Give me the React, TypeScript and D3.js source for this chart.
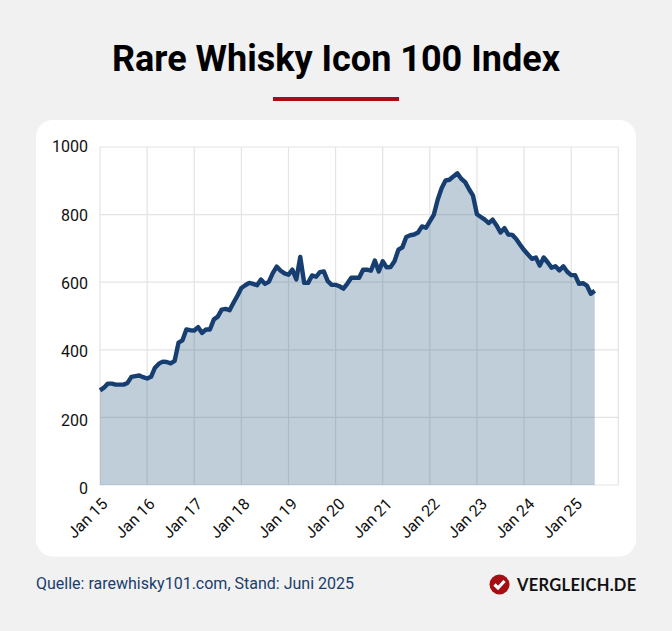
import { useEffect, useRef } from 'react'
import * as d3 from 'd3'

// monatliche Indexwerte, Jan 15 bis Jul 25
const values2015 = [280, 288, 300, 300, 297, 297, 297, 302, 320, 322, 324, 319]
const values2016 = [315, 320, 347, 359, 365, 364, 360, 367, 421, 428, 460, 458]
const values2017 = [457, 467, 450, 460, 460, 490, 498, 519, 521, 517, 539, 560]
const values2018 = [583, 591, 598, 595, 591, 608, 595, 601, 627, 646, 634, 626]
const values2019 = [622, 637, 608, 675, 598, 598, 620, 616, 630, 632, 603, 592]
const values2020 = [592, 588, 581, 596, 613, 613, 613, 637, 637, 634, 664, 632]
const values2021 = [662, 644, 645, 662, 696, 703, 734, 739, 741, 747, 765, 761]
const values2022 = [780, 799, 844, 878, 901, 903, 913, 922, 906, 896, 875, 856]
const values2023 = [801, 793, 785, 775, 785, 768, 747, 760, 741, 740, 728, 711]
const values2024 = [695, 682, 669, 673, 649, 673, 659, 643, 647, 635, 647, 631]
const values2025 = [621, 621, 595, 597, 590, 566, 575]

const yearLabels = ['Jan 15', 'Jan 16', 'Jan 17', 'Jan 18', 'Jan 19', 'Jan 20', 'Jan 21', 'Jan 22', 'Jan 23', 'Jan 24', 'Jan 25']
const yTicks = [0, 200, 400, 600, 800, 1000]

const W = 672
const H = 631
const FONT = 'Roboto, sans-serif'
const NAVY = '#163e70'
const RED = '#a50f14'

export default function App() {
  const svgRef = useRef<SVGSVGElement>(null)

  useEffect(() => {
    const svg = svgRef.current
    if (!svg) return
    const sel = d3.select(svg)
    sel.selectAll('*').remove()

    const data = [
      ...values2015, ...values2016, ...values2017, ...values2018, ...values2019, ...values2020,
      ...values2021, ...values2022, ...values2023, ...values2024, ...values2025,
    ].map((v, i) => ({ i, v }))

    const margin = { top: 147, left: 100 }
    const iw = 518.3
    const ih = 338

    // Hintergrund + Karte
    sel.append('rect').attr('width', W).attr('height', H).attr('fill', '#f1f1f1')
    sel.append('rect')
      .attr('x', 36).attr('y', 120).attr('width', 600).attr('height', 436.5).attr('rx', 17)
      .attr('fill', '#fff')

    // Titel
    sel.append('text')
      .attr('x', W / 2).attr('y', 71).attr('text-anchor', 'middle')
      .attr('font-family', FONT).attr('font-weight', 700).attr('font-size', 36).attr('fill', '#000')
      .text('Rare Whisky Icon 100 Index')
    sel.append('rect').attr('x', 273).attr('y', 97).attr('width', 126).attr('height', 4).attr('fill', RED)

    const g = sel.append('g').attr('transform', `translate(${margin.left},${margin.top})`)

    const x = d3.scaleLinear().domain([0, 132]).range([0, iw])
    const y = d3.scaleLinear().domain([0, 1000]).range([ih, 0])

    // Beschriftung läuft etwas weiter auseinander als das Gitter
    const xLabel = d3.scaleLinear().domain([0, 120]).range([0, 474.5])
    const yLabel = d3.scaleLinear().domain([0, 1000]).range([341.3, -0.3])

    // Gitter
    const xTicks = d3.range(0, 133, 12)
    g.append('g').selectAll('line').data(xTicks).join('line')
      .attr('x1', d => x(d)).attr('x2', d => x(d)).attr('y1', 0).attr('y2', ih)
      .attr('stroke', '#e4e4e4').attr('stroke-width', 1.2)
    g.append('g').selectAll('line').data(yTicks).join('line')
      .attr('x1', 0).attr('x2', iw).attr('y1', d => y(d)).attr('y2', d => y(d))
      .attr('stroke', '#e4e4e4').attr('stroke-width', 1.2)

    // Y-Achse
    g.append('g')
      .call(d3.axisLeft(yLabel).tickValues(yTicks).tickSize(0).tickPadding(12).tickFormat(d => String(d)))
      .call(ag => {
        ag.select('.domain').remove()
        ag.selectAll('text').attr('fill', '#111').attr('font-size', 16).attr('font-family', FONT)
      })

    // X-Achse
    g.append('g')
      .attr('transform', `translate(0,${ih})`)
      .call(d3.axisBottom(xLabel).tickValues(xTicks.slice(0, yearLabels.length)).tickSize(0)
        .tickFormat((_, i) => yearLabels[i]))
      .call(ag => {
        ag.select('.domain').remove()
        ag.selectAll('text')
          .attr('fill', '#111').attr('font-size', 16).attr('font-family', FONT)
          .attr('text-anchor', 'end').attr('dy', 0).attr('y', 0)
          .attr('transform', 'translate(8,20) rotate(-45)')
      })

    // Fläche + Linie
    const area = d3.area<{ i: number; v: number }>().x(d => x(d.i)).y0(ih).y1(d => y(d.v))
    const line = d3.line<{ i: number; v: number }>().x(d => x(d.i)).y(d => y(d.v))
    g.append('path').datum(data).attr('fill', '#174b75').attr('fill-opacity', 0.27).attr('d', area)
    g.append('path').datum(data)
      .attr('fill', 'none').attr('stroke', NAVY).attr('stroke-width', 4.4)
      .attr('stroke-linejoin', 'round').attr('d', line)

    // Quelle
    sel.append('text')
      .attr('x', 36).attr('y', 589)
      .attr('font-family', FONT).attr('font-size', 16).attr('fill', '#1a3d6b')
      .text('Quelle: rarewhisky101.com, Stand: Juni 2025')

    // Logo
    const logo = sel.append('g').attr('transform', 'translate(499.5,584.5)')
    logo.append('circle').attr('r', 10).attr('fill', RED)
    logo.append('path')
      .attr('d', 'M-5,0 L-1.5,3.5 L5,-3.5')
      .attr('fill', 'none').attr('stroke', '#fff').attr('stroke-width', 3.2)
    sel.append('text')
      .attr('x', 517).attr('y', 590.5)
      .attr('font-family', 'Lato, sans-serif').attr('font-weight', 700).attr('font-size', 16.5)
      .attr('letter-spacing', 0.3).attr('fill', '#111')
      .text('VERGLEICH.DE')
  }, [])

  return <svg ref={svgRef} width={W} height={H} style={{ position: 'absolute', left: 0, top: 0, display: 'block' }} />
}
